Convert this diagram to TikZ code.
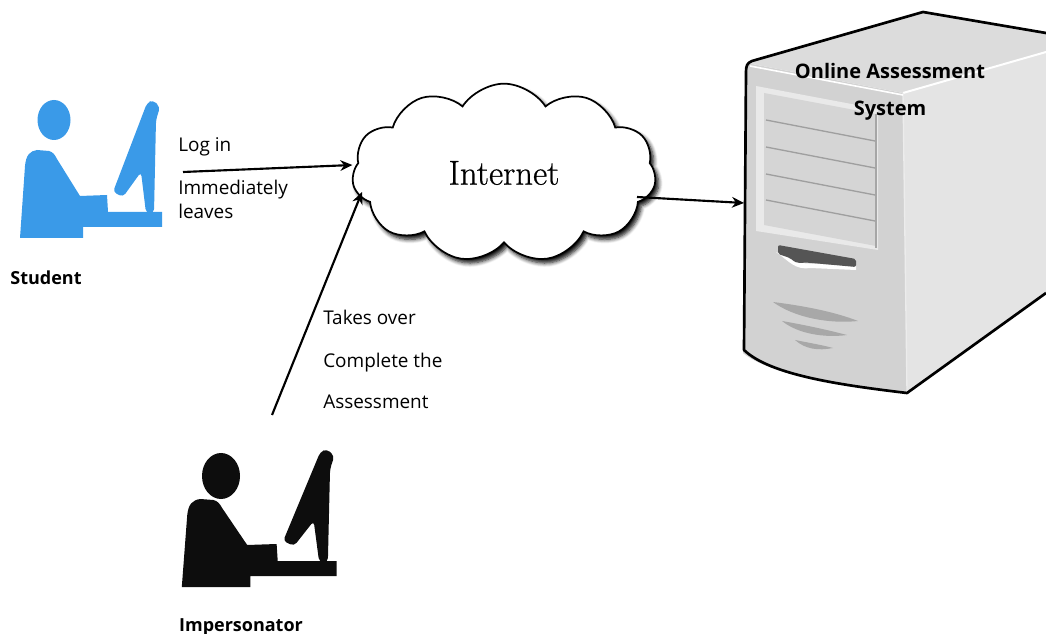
\documentclass[tikz,border=0pt]{standalone}
\usepackage{fontspec}
\newfontfamily\labelfont{Open Sans}
\newfontfamily\cloudfont{Latin Modern Roman}[FakeBold=0.6]
\usetikzlibrary{shapes.symbols,shadows.blur,arrows.meta}

\definecolor{studentblue}{HTML}{3A9AE8}
\definecolor{frontgray}{HTML}{D2D2D2}
\definecolor{sidegray}{HTML}{E4E4E4}
\definecolor{topgray}{HTML}{DCDCDC}
\definecolor{baygray}{HTML}{D5D5D5}
\definecolor{bayframe}{HTML}{E9E9E9}
\definecolor{slotgray}{HTML}{555555}
\definecolor{ventgray}{HTML}{A8A8A8}

\tikzset{
  caption/.style={font=\labelfont\bfseries\fontsize{13.5}{16}\selectfont, inner sep=0pt},
  servercaption/.style={font=\labelfont\bfseries\fontsize{15}{18}\selectfont, inner sep=0pt},
  note/.style={font=\labelfont\fontsize{14.2}{17}\selectfont, inner sep=0pt, anchor=base west},
  link/.style={line width=1.6pt, -{Stealth[length=9pt,width=8pt]}},
  netcloud/.style={cloud, cloud puffs=11, cloud puff arc=115, aspect=1.7,
    draw, line width=1.3pt, fill=white, minimum width=228pt, minimum height=134pt,
    blur shadow={shadow xshift=2.5pt, shadow yshift=-3pt, shadow blur steps=6,
      shadow blur radius=3pt, shadow opacity=95},
    font=\cloudfont\fontsize{26}{30}\selectfont}
}

% seated person (body, desk and monitor) without the head
\newcommand\seatedbody[1]{%
  \fill[#1] (20,238) -- (25,166) .. controls (26,155) and (30,151) .. (37,150)
    -- (49,151) .. controls (53,152) and (55,155) .. (57,159)
    -- (80,196) -- (107,195) -- (108,212)
    -- (162,212) -- (162,227) -- (83,227) -- (83,238) -- cycle;
  \fill[#1, rounded corners=3pt] (147,103) -- (153,100) -- (160,107) -- (156,120)
    -- (154,213) -- (146,213) -- (141,172) -- (123,197) -- (113,192) -- cycle;
}

\begin{document}
\begin{tikzpicture}[x=0.75pt, y=-0.75pt]
\useasboundingbox (0,0) rectangle (1046,634);

% student
\seatedbody{studentblue}
\fill[studentblue] (54,120) ellipse [x radius=16.5, y radius=20];
\node[caption, anchor=base] (student) at (46,285) {Student};
\coordinate (studentout) at (183,172);

% impersonator
\begin{scope}[shift={(160,349)}, xscale=1.09]
  \seatedbody{black!95}
\end{scope}
\fill[black!95] (221,476) ellipse [x radius=19, y radius=23];
\node[caption, anchor=base] (imp) at (241,631) {Impersonator};
\coordinate (impout) at (272,415);

% internet cloud
\node[netcloud] (net) at (504,173) {Internet};

% server tower
\begin{scope}
  % front face
  \fill[frontgray] (747,63) -- (903,93) -- (907,393)
    .. controls (840,385) and (770,375) .. (743,353) -- cycle;
  % top face
  \fill[topgray] (747,63) -- (923,12) -- (1046,32) -- (1046,52) -- (903,93) -- cycle;
  % side face
  \fill[sidegray] (903,93) -- (1046,52) -- (1046,293) -- (907,393) -- cycle;
  % edges between faces
  \draw[white, line width=1.5pt] (903,93) -- (1046,52);
  \draw[white!85!gray, line width=1pt] (903,93) -- (907,393);
  \draw[white, line width=1.2pt] (750,66) -- (903,95);
  % drive bay
  \fill[bayframe] (756,86) -- (878,109) -- (878,250) -- (756,231) -- cycle;
  \fill[baygray] (764,93) -- (876,114) -- (876,246) -- (764,225) -- cycle;
  \draw[gray!70, line width=0.8pt] (876,114) -- (876,248);
  \foreach \yy in {120,147,174,200} {
    \draw[gray!75, line width=1pt] (766,\yy) -- (875,\yy+21);
  }
  % disc slot
  \fill[white] (776,252) .. controls (790,262) and (795,270) .. (810,268)
    -- (856,270) -- (856,266) -- (800,263) -- cycle;
  \fill[slotgray, rounded corners=1.5pt] (778,245) -- (856,259) -- (856,267)
    -- (812,263) .. controls (800,262) and (798,265) .. (790,258) -- (778,254) -- cycle;
  % vents
  \fill[ventgray] (773,302) .. controls (805,306) and (835,312) .. (858,321)
    .. controls (830,324) and (795,318) .. cycle;
  \fill[ventgray] (782,321) .. controls (805,325) and (828,330) .. (847,335)
    .. controls (825,338) and (798,334) .. cycle;
  \fill[ventgray] (795,340) .. controls (810,343) and (822,345) .. (833,348)
    .. controls (818,351) and (805,349) .. cycle;
  % outline
  \draw[line width=2pt, line join=round]
    (1046,33) -- (923,12) -- (752,61) .. controls (747,63) and (746,66) .. (746,72)
    -- (744,350) .. controls (770,375) and (840,385) .. (907,393) -- (1046,293);
\end{scope}
\node[servercaption, anchor=base] (oas1) at (890,79) {Online Assessment};
\node[servercaption, anchor=base] (oas2) at (890,116) {System};
\coordinate (server) at (744,203);

% labels on the connectors
\node[note] (login) at (178,152) {Log in};
\node[note] (imm) at (178,195) {Immediately};
\node[note] (leave) at (178,219) {leaves};
\node[note] (take) at (323,325) {Takes over};
\node[note] (comp) at (323,368) {Complete the};
\node[note] (asmt) at (323,409) {Assessment};

% connectors
\draw[link] (studentout) -- ([yshift=6pt]net.west);
\draw[link] (impout) -- (362,192);
\draw[link] (637,197) -- (server);
\end{tikzpicture}
\end{document}
